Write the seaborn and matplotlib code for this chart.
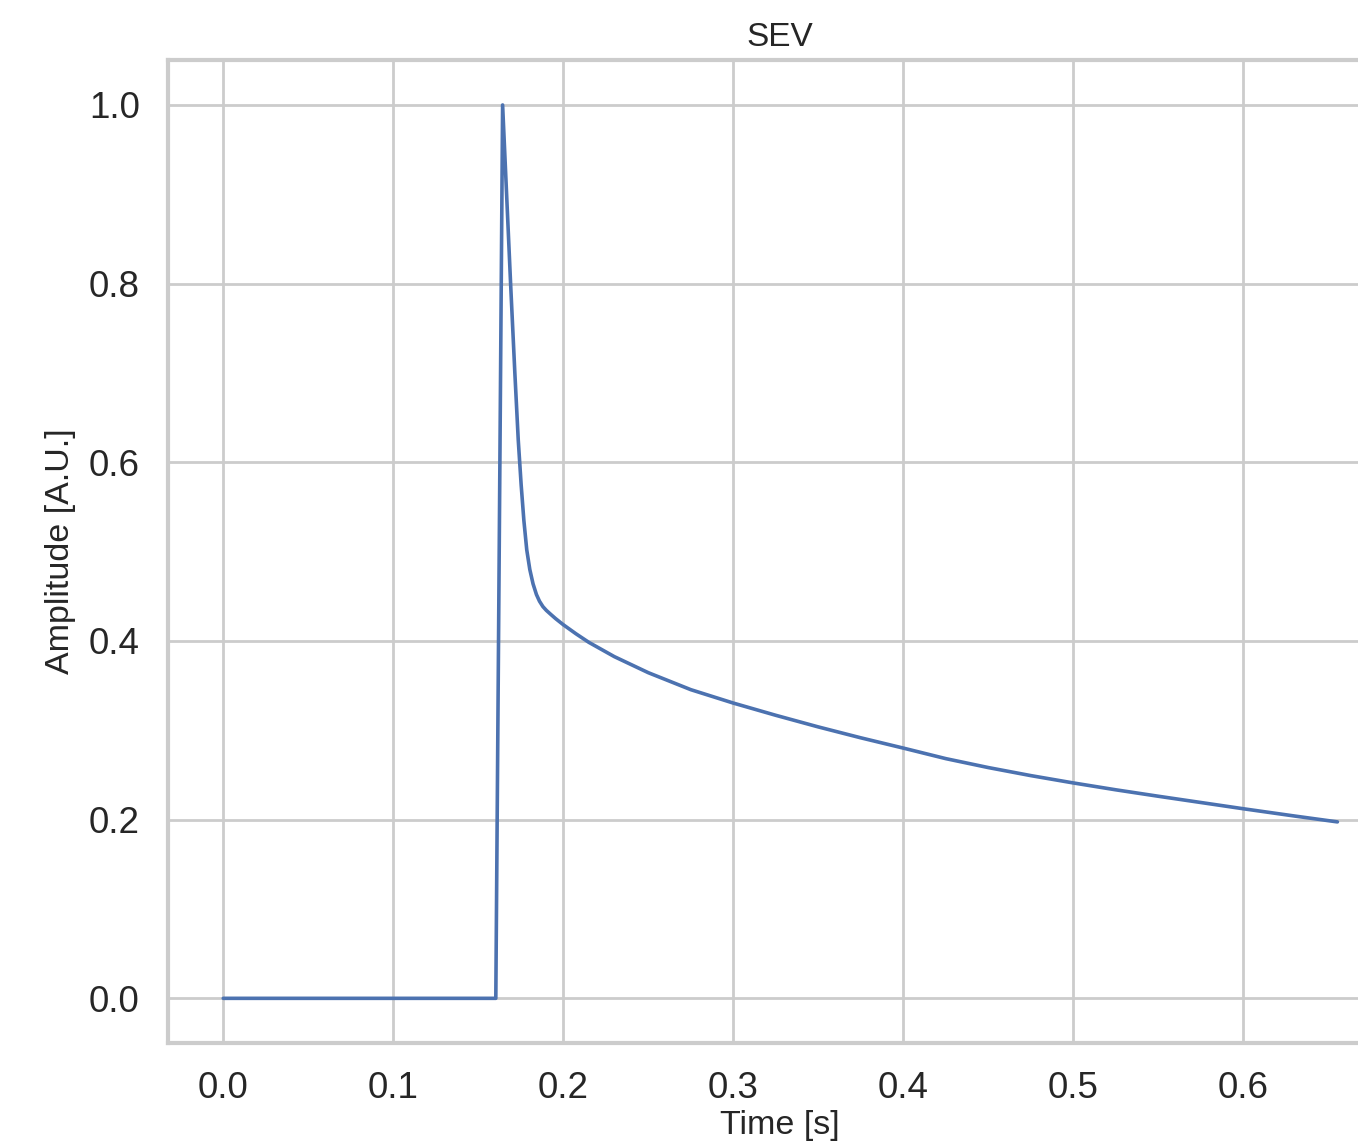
import matplotlib
matplotlib.use("Agg")
import matplotlib.pyplot as plt
import seaborn as sns
import pandas as pd

# Data
time_s = [0.0, 0.1603, 0.1643, 0.1690, 0.1715, 0.1735, 0.1752, 0.1768, 0.1785,
          0.1803, 0.1822, 0.1842, 0.1860, 0.1880, 0.1900, 0.1925, 0.1955,
          0.2000, 0.2075, 0.2150, 0.2300, 0.2500, 0.2750, 0.3000, 0.3250,
          0.3500, 0.3750, 0.4000, 0.4250, 0.4500, 0.4750, 0.5000, 0.5250,
          0.5500, 0.5750, 0.6000, 0.6300, 0.6553]
amplitude = [0.0, 0.0, 1.0, 0.800, 0.700, 0.625, 0.575, 0.535, 0.502,
             0.480, 0.464, 0.452, 0.4445, 0.4385, 0.4343, 0.4300, 0.4250,
             0.4182, 0.408, 0.3985, 0.3825, 0.3645, 0.3455, 0.3305, 0.3168,
             0.3038, 0.2916, 0.2801, 0.2683, 0.2583, 0.2493, 0.2411, 0.2334,
             0.2262, 0.2192, 0.2122, 0.2041, 0.1975]

title = "SEV"
xlabel = "Time [s]"
ylabel = "Amplitude [A.U.]"

df = pd.DataFrame({"time": time_s, "amp": amplitude})

sns.set_theme(style="whitegrid")
plt.rcParams['font.family'] = ['Liberation Sans', 'DejaVu Sans']

W, H = 1358, 1146
fig = plt.figure(figsize=(W / 100, H / 100), dpi=100)
left, right, top, bottom = 167.5, 1393, 60.3, 1043
ax = fig.add_axes([left / W, (H - bottom) / H, (right - left) / W, (bottom - top) / H])

sns.lineplot(data=df, x="time", y="amp", ax=ax, color="#4c72b0", linewidth=2.6)
ax.lines[0].set_solid_joinstyle("round")

ax.set_xlim(-0.0328, 0.688)
ax.set_ylim(-0.05, 1.05)
ax.set_xticks([0.0, 0.1, 0.2, 0.3, 0.4, 0.5, 0.6])
ax.set_yticks([0.0, 0.2, 0.4, 0.6, 0.8, 1.0])

ax.set_title(title, fontsize=24, pad=10, color="#262626")
ax.set_xlabel(xlabel, fontsize=24.5, labelpad=3, color="#262626")
ax.set_ylabel(ylabel, fontsize=24.5, labelpad=9, color="#262626")
ax.tick_params(axis="both", labelsize=26.5, pad=20, length=0, colors="#262626")

ax.grid(True, color="#cccccc", linewidth=2.0)
for sp in ax.spines.values():
    sp.set_color("#cccccc")
    sp.set_linewidth(3.0)

fig.savefig("out.png", dpi=100)
